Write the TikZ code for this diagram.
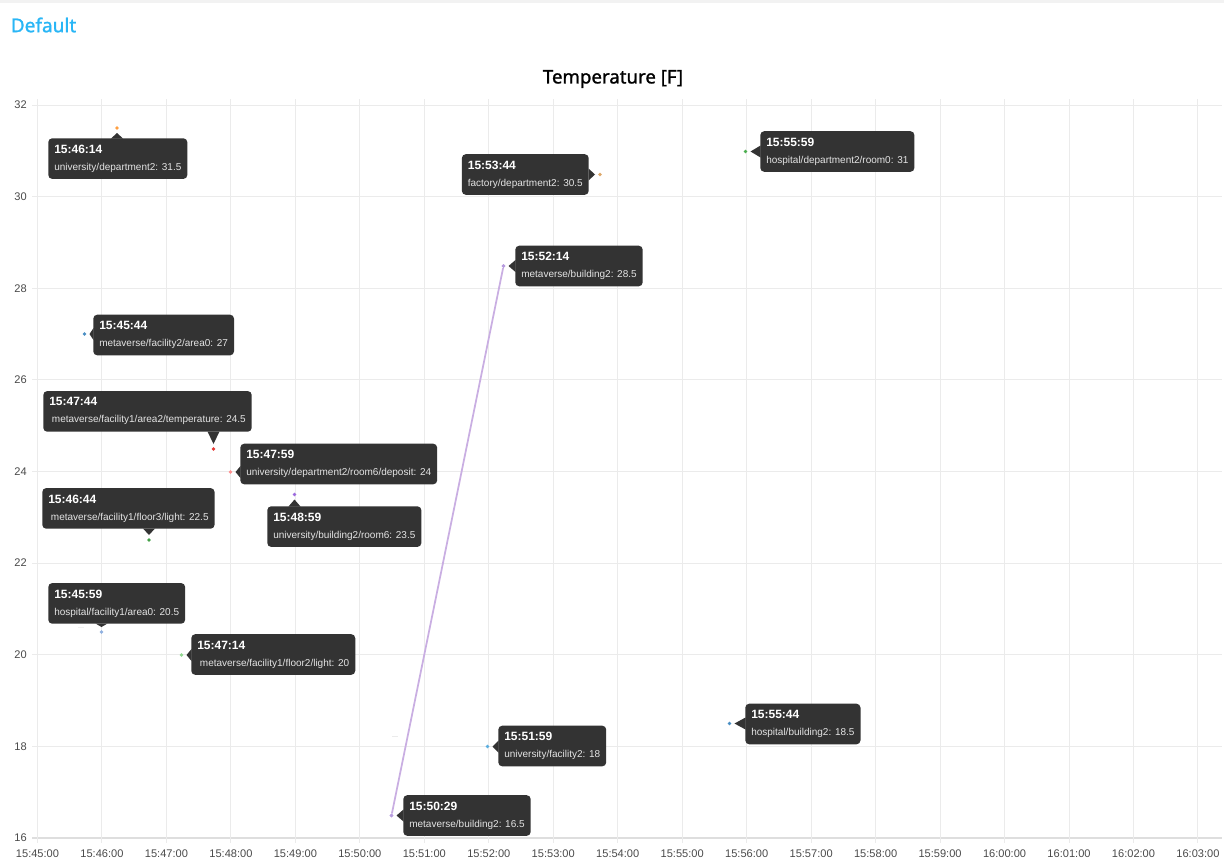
\documentclass[tikz,border=0pt]{standalone}
\usepackage{fontspec}
\setmainfont{Liberation Sans}
\newfontfamily\notosans[FakeBold=1.2]{Noto Sans}
\usetikzlibrary{calc}
\definecolor{tipbg}{HTML}{333333}
\definecolor{tipbody}{HTML}{E4E4E4}
\definecolor{gridc}{HTML}{EBEBEB}
\definecolor{axisc}{HTML}{DEDEDE}
\definecolor{tickc}{HTML}{4A4A4A}
\definecolor{headc}{HTML}{29B6F6}
\definecolor{topband}{HTML}{F2F2F2}
\definecolor{seriesc}{HTML}{C9AEE2}
\definecolor{cOrange}{HTML}{FF9F40}
\definecolor{cTan}{HTML}{DDA86A}
\definecolor{cGreen}{HTML}{4CAF50}
\definecolor{cPurple}{HTML}{B79CDF}
\definecolor{cBlue}{HTML}{4A8FC4}
\definecolor{cRed}{HTML}{E53935}
\definecolor{cPink}{HTML}{FF9090}
\definecolor{cGreen2}{HTML}{43A047}
\definecolor{cViolet}{HTML}{9C6ADE}
\definecolor{cLBlue}{HTML}{8FB0E0}
\definecolor{cLGreen}{HTML}{90D890}
\definecolor{cSky}{HTML}{5AAEE0}
\newcommand\tiptext[2]{{\fontsize{9}{12.75}\selectfont\bfseries #1}\\{\color{tipbody}#2}}
\newcommand\arrR[2]{\fill[tipbg] ($(#1)+(5,0)$) -- ($(#2.west|-#1)+(0.5,-6)$) -- ($(#2.west|-#1)+(0.5,6)$) -- cycle;}
\newcommand\arrL[2]{\fill[tipbg] ($(#1)+(-5,0)$) -- ($(#2.east|-#1)+(-0.5,-6)$) -- ($(#2.east|-#1)+(-0.5,6)$) -- cycle;}
\newcommand\arrB[2]{\fill[tipbg] ($(#1)+(0,5)$) -- ($(#1|-#2.north)+(-6,0.5)$) -- ($(#1|-#2.north)+(6,0.5)$) -- cycle;}
\newcommand\arrA[2]{\fill[tipbg] ($(#1)+(0,-5)$) -- ($(#1|-#2.south)+(-6,-0.5)$) -- ($(#1|-#2.south)+(6,-0.5)$) -- cycle;}
\begin{document}
\begin{tikzpicture}[x=0.75pt,y=-0.75pt,
  tip/.style={fill=tipbg, rounded corners=3pt, text=white, align=left,
    inner xsep=4.5pt, inner ysep=0pt, minimum height=30.5pt,
    font=\fontsize{7.5}{12.75}\selectfont},
  dot/.style={circle, inner sep=0pt, minimum size=2.8pt},
  gridline/.style={draw=gridc, line width=0.75pt},
  ticklab/.style={text=tickc, font=\fontsize{8.3}{10}\selectfont, inner sep=0pt},
]
\useasboundingbox (0,0) rectangle (1224,860);
\fill[white] (0,0) rectangle (1224,860);
\fill[topband] (0,0) rectangle (1224,3);

\node[text=headc, font=\notosans\fontsize{14.3}{16}\selectfont, anchor=west, inner sep=0pt] (head) at (10.5,25) {Default};
\node[text=black, font=\notosans\fontsize{14}{16}\selectfont, inner sep=0pt] (title) at (613,79) {Temperature [F]};

% horizontal grid
\foreach \v in {16,18,...,32} {
  \pgfmathsetmacro\yy{838-(\v-16)*45.8125}
  \draw[gridline] (32,\yy) -- (1222,\yy);
  \node[ticklab, anchor=east] (yl\v) at (27,\yy) {\v};
}
\draw[draw=axisc, line width=1.2pt] (32,838) -- (1222,838);
% vertical grid
\foreach \k/\lab in {0/15:45:00,1/15:46:00,2/15:47:00,3/15:48:00,4/15:49:00,5/15:50:00,6/15:51:00,7/15:52:00,8/15:53:00,9/15:54:00,10/15:55:00,11/15:56:00,12/15:57:00,13/15:58:00,14/15:59:00,15/16:00:00,16/16:01:00,17/16:02:00,18/16:03:00} {
  \pgfmathsetmacro\xx{37.5+\k*64.47}
  \draw[gridline] (\xx,99) -- (\xx,843);
  \node[ticklab] (xl\k) at (\xx,853.5) {\lab};
}

% faint marks
\draw[draw=gridc, line width=0.75pt] (392,736) -- (398,736);
\draw[draw=gridc!70!white, line width=0.75pt] (78,627) -- (84,627);

% data points
\node[dot, fill=cOrange] (p1) at (117,128) {};
\node[dot, fill=cTan] (p2) at (600,174.5) {};
\node[dot, fill=cGreen] (p3) at (745.5,151.5) {};
\node[dot, fill=cPurple] (p4) at (503.5,266) {};
\node[dot, fill=cPurple] (p5) at (391.5,815.5) {};
\node[dot, fill=cBlue] (p6) at (84.5,334) {};
\node[dot, fill=cRed] (p7) at (213.5,449) {};
\node[dot, fill=cPink] (p8) at (230.5,472) {};
\node[dot, fill=cGreen2] (p9) at (149,540) {};
\node[dot, fill=cViolet] (p10) at (294.5,494.5) {};
\node[dot, fill=cLBlue] (p11) at (101.5,632) {};
\node[dot, fill=cLGreen] (p12) at (181.5,655) {};
\node[dot, fill=cSky] (p13) at (487.5,746.5) {};
\node[dot, fill=cBlue] (p14) at (729.5,723.5) {};

\draw[draw=seriesc, line width=1.3pt] (p5) -- (p4);
\node[dot, fill=cPurple] at (p4) {};
\node[dot, fill=cPurple] at (p5) {};

% tooltips
\node[tip, anchor=north west] (t1) at (48,138) {\tiptext{15:46:14}{university/department2: 31.5}};
\arrB{p1}{t1}
\node[tip, anchor=east] (t2) at (589,174.5) {\tiptext{15:53:44}{factory/department2: 30.5}};
\arrL{p2}{t2}
\node[tip, anchor=west] (t3) at (760,151.5) {\tiptext{15:55:59}{hospital/department2/room0: 31}};
\arrR{p3}{t3}
\node[tip, anchor=west] (t4) at (515,266) {\tiptext{15:52:14}{metaverse/building2: 28.5}};
\arrR{p4}{t4}
\node[tip, anchor=west] (t5) at (403,815.5) {\tiptext{15:50:29}{metaverse/building2: 16.5}};
\arrR{p5}{t5}
\node[tip, anchor=west] (t6) at (93,335) {\tiptext{15:45:44}{metaverse/facility2/area0: 27}};
\arrR{p6}{t6}
\node[tip, anchor=south west] (t7) at (43,432) {\tiptext{15:47:44}{\hspace{2pt}metaverse/facility1/area2/temperature: 24.5}};
\arrA{p7}{t7}
\node[tip, anchor=west] (t8) at (240,464) {\tiptext{15:47:59}{university/department2/room6/deposit: 24}};
\fill[tipbg] ($(p8)+(5,0)$) -- (240.5,466) -- (240.5,478) -- cycle;
\node[tip, anchor=south west] (t9) at (42,529) {\tiptext{15:46:44}{\hspace{2pt}metaverse/facility1/floor3/light: 22.5}};
\arrA{p9}{t9}
\node[tip, anchor=north west] (t10) at (267,506) {\tiptext{15:48:59}{university/building2/room6: 23.5}};
\arrB{p10}{t10}
\node[tip, anchor=south west] (t11) at (48,624) {\tiptext{15:45:59}{hospital/facility1/area0: 20.5}};
\arrA{p11}{t11}
\node[tip, anchor=west] (t12) at (191,654.5) {\tiptext{15:47:14}{\hspace{2pt}metaverse/facility1/floor2/light: 20}};
\arrR{p12}{t12}
\node[tip, anchor=west] (t13) at (498,746) {\tiptext{15:51:59}{university/facility2: 18}};
\arrR{p13}{t13}
\node[tip, anchor=west] (t14) at (745,724) {\tiptext{15:55:44}{hospital/building2: 18.5}};
\arrR{p14}{t14}
\end{tikzpicture}
\end{document}
